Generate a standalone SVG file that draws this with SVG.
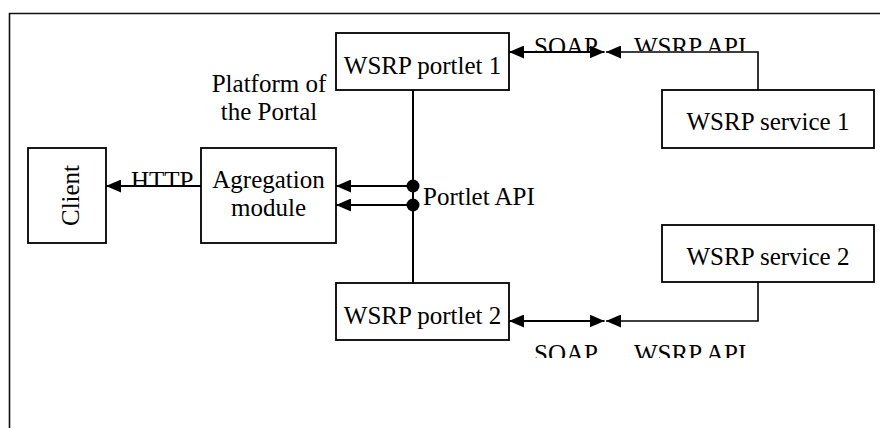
<svg xmlns="http://www.w3.org/2000/svg" width="880" height="428" viewBox="0 0 880 428">
  <style>
    text { font-family: "Liberation Serif", "Times New Roman", serif; font-size: 25px; fill: #000; }
    .box { fill: #fff; stroke: #000; stroke-width: 1.8; }
    .wire { fill: none; stroke: #000; stroke-width: 2; }
    .thin { fill: none; stroke: #000; stroke-width: 1.6; }
    .frame { fill: none; stroke: #111; stroke-width: 1.6; }
    .mid { text-anchor: middle; }
  </style>
  <defs>
    <marker id="arrow" markerUnits="userSpaceOnUse" markerWidth="15" markerHeight="13" refX="15" refY="6.5" orient="auto-start-reverse">
      <path d="M0,0 L15,6.5 L0,13 Z" fill="#000"/>
    </marker>
    <!-- label boxes cut off their lower edge -->
    <clipPath id="clipTop"><rect x="520" y="20" width="260" height="31"/></clipPath>
    <clipPath id="clipHttp"><rect x="110" y="160" width="90" height="25"/></clipPath>
    <clipPath id="clipBottom"><rect x="520" y="330" width="260" height="28"/></clipPath>
  </defs>

  <!-- portal platform boundary -->
  <g id="platform">
    <path class="frame" d="M880,13.5 L9.5,13.5 L9.5,428"/>
    <text class="mid" x="269" y="92">Platform of</text>
    <text class="mid" x="269" y="120">the Portal</text>
  </g>

  <g id="connectors">
    <!-- portlet bus -->
    <line class="wire" x1="413" y1="90" x2="413" y2="283"/>
    <line class="wire" x1="413" y1="186" x2="336" y2="186" marker-end="url(#arrow)"/>
    <line class="wire" x1="413" y1="205" x2="336" y2="205" marker-end="url(#arrow)"/>
    <circle cx="413" cy="186" r="6.5" fill="#000"/>
    <circle cx="413" cy="205" r="6.5" fill="#000"/>
    <text x="423" y="205">Portlet API</text>

    <!-- HTTP to client -->
    <line class="wire" x1="201" y1="186" x2="106" y2="186" marker-end="url(#arrow)"/>
    <text x="131" y="189" clip-path="url(#clipHttp)">HTTP</text>

    <!-- portlet 1 to service 1 -->
    <line class="wire" x1="509" y1="52" x2="604.5" y2="52" marker-start="url(#arrow)" marker-end="url(#arrow)"/>
    <path class="thin" d="M758,90 L758,52 L606,52" marker-end="url(#arrow)"/>
    <g clip-path="url(#clipTop)">
      <text x="534" y="55">SOAP</text>
      <text x="634" y="55">WSRP API</text>
    </g>

    <!-- portlet 2 to service 2 -->
    <line class="wire" x1="509" y1="321" x2="604.5" y2="321" marker-start="url(#arrow)" marker-end="url(#arrow)"/>
    <path class="thin" d="M758,282 L758,321 L606,321" marker-end="url(#arrow)"/>
    <g clip-path="url(#clipBottom)">
      <text x="534" y="362">SOAP</text>
      <text x="634" y="362">WSRP API</text>
    </g>
  </g>

  <g id="client">
    <rect class="box" x="28" y="148" width="78" height="95"/>
    <text class="mid" transform="translate(79,195.5) rotate(-90)">Client</text>
  </g>

  <g id="aggregation">
    <rect class="box" x="201" y="148" width="135" height="95"/>
    <text class="mid" x="268.5" y="188">Agregation</text>
    <text class="mid" x="268.5" y="216">module</text>
  </g>

  <g id="portlet1">
    <rect class="box" x="336" y="33" width="173" height="57"/>
    <text class="mid" x="422.5" y="74">WSRP portlet 1</text>
  </g>

  <g id="portlet2">
    <rect class="box" x="336" y="283" width="173" height="57"/>
    <text class="mid" x="422.5" y="324">WSRP portlet 2</text>
  </g>

  <g id="service1">
    <rect class="box" x="662" y="90" width="212" height="58"/>
    <text class="mid" x="768" y="130">WSRP service 1</text>
  </g>

  <g id="service2">
    <rect class="box" x="662" y="225" width="212" height="57"/>
    <text class="mid" x="768" y="265">WSRP service 2</text>
  </g>
</svg>
